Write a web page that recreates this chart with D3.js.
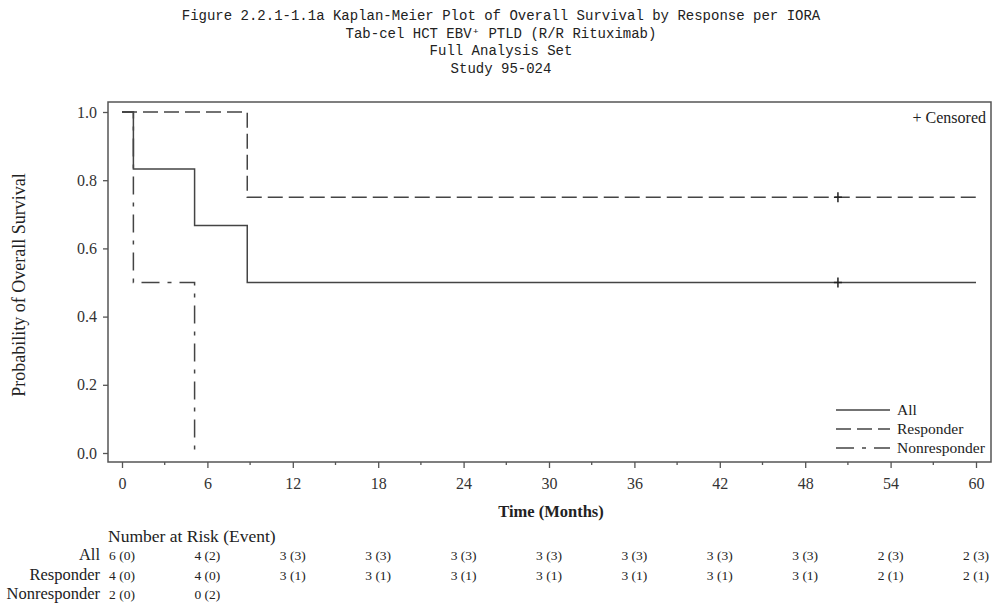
<!DOCTYPE html>
<html lang="en">
<head>
    <meta charset="UTF-8">
    <script src="https://d3js.org/d3.v7.min.js"></script>
    <style>
        body { margin: 0; background: #fff; }
        .title { font-family: "Liberation Mono", "DejaVu Sans Mono", monospace; font-size: 14px; fill: #222; }
        .serif { font-family: "Liberation Serif", "Times New Roman", serif; fill: #222; }
        .axis text { font-family: "Liberation Serif", serif; font-size: 16px; fill: #333; }
        .axis path, .axis line { stroke: #555; stroke-width: 1.3px; }
    </style>
</head>
<body>
<div id="chart"></div>
<script>
    // Kaplan-Meier step data (time in months, survival probability)
    const allTimes = [0, 0.8, 5.1, 8.8, 60];
    const allSurv  = [1.0, 0.833, 0.667, 0.5, 0.5];
    const respTimes = [0, 8.8, 60];
    const respSurv  = [1.0, 0.75, 0.75];
    const nonTimes = [0, 0.8, 5.1];
    const nonSurv  = [1.0, 0.5, 0.0];
    const censorTime = 50.3;
    const censorAll = 0.5, censorResp = 0.75;

    const xTicks = [0, 6, 12, 18, 24, 30, 36, 42, 48, 54, 60];
    const yTicks = [0, 0.2, 0.4, 0.6, 0.8, 1.0];

    const riskGroups = ["All", "Responder", "Nonresponder"];
    const riskAll  = ["6 (0)", "4 (2)", "3 (3)", "3 (3)", "3 (3)", "3 (3)", "3 (3)", "3 (3)", "3 (3)", "2 (3)", "2 (3)"];
    const riskResp = ["4 (0)", "4 (0)", "3 (1)", "3 (1)", "3 (1)", "3 (1)", "3 (1)", "3 (1)", "3 (1)", "2 (1)", "2 (1)"];
    const riskNon  = ["2 (0)", "0 (2)"];

    const titles = [
        "Figure 2.2.1-1.1a Kaplan-Meier Plot of Overall Survival by Response per IORA",
        "Tab-cel HCT EBV\u207A PTLD (R/R Rituximab)",
        "Full Analysis Set",
        "Study 95-024"
    ];

    const W = 993, H = 603;
    const frame = {left: 108, right: 991, top: 102, bottom: 462};

    const svg = d3.select("#chart").append("svg")
        .attr("width", W).attr("height", H);

    // titles
    svg.selectAll(".title")
        .data(titles)
        .enter()
        .append("text")
        .attr("class", "title")
        .attr("x", 501)
        .attr("y", (d, i) => 20 + i * 17.6)
        .attr("text-anchor", "middle")
        .text(d => d);

    const x = d3.scaleLinear().domain([0, 60]).range([122, 976]);
    const y = d3.scaleLinear().domain([0, 1]).range([453, 112]);

    // frame
    svg.append("rect")
        .attr("x", frame.left).attr("y", frame.top)
        .attr("width", frame.right - frame.left)
        .attr("height", frame.bottom - frame.top)
        .attr("fill", "none")
        .attr("stroke", "#555")
        .attr("stroke-width", 1.5);

    // y axis
    const yAxis = svg.append("g")
        .attr("class", "axis")
        .attr("transform", `translate(${frame.left},0)`)
        .call(d3.axisLeft(y).tickValues(yTicks).tickFormat(d3.format(".1f")).tickSize(5).tickPadding(6));
    yAxis.select(".domain").remove();

    // x axis (major + minor ticks)
    const xAxis = svg.append("g")
        .attr("class", "axis")
        .attr("transform", `translate(0,${frame.bottom})`)
        .call(d3.axisBottom(x).tickValues(xTicks).tickSize(6).tickPadding(10));
    xAxis.select(".domain").remove();

    const minorTicks = xTicks.slice(0, -1).map(d => d + 3);
    svg.append("g")
        .selectAll("line")
        .data(minorTicks)
        .enter()
        .append("line")
        .attr("x1", d => x(d)).attr("x2", d => x(d))
        .attr("y1", frame.bottom).attr("y2", frame.bottom + 3)
        .attr("stroke", "#555")
        .attr("stroke-width", 1.3);

    // axis labels
    svg.append("text")
        .attr("class", "serif")
        .attr("transform", "translate(25,285) rotate(-90)")
        .attr("text-anchor", "middle")
        .style("font-size", "18px")
        .text("Probability  of Overall Survival");

    svg.append("text")
        .attr("class", "serif")
        .attr("x", 551).attr("y", 517)
        .attr("text-anchor", "middle")
        .style("font-size", "16.5px")
        .style("font-weight", "bold")
        .text("Time (Months)");

    // curves
    const line = d3.line()
        .x(d => x(d[0]))
        .y(d => y(d[1]))
        .curve(d3.curveStepAfter);

    const curves = [
        {times: allTimes, surv: allSurv, dash: null},
        {times: respTimes, surv: respSurv, dash: "15,6"},
        {times: nonTimes, surv: nonSurv, dash: "18,8,4,8"}
    ];

    svg.selectAll(".curve")
        .data(curves)
        .enter()
        .append("path")
        .attr("class", "curve")
        .attr("d", d => line(d.times.map((t, i) => [t, d.surv[i]])))
        .attr("fill", "none")
        .attr("stroke", "#444")
        .attr("stroke-width", 1.5)
        .attr("stroke-dasharray", d => d.dash);

    // censor marks
    svg.selectAll(".censor")
        .data([censorAll, censorResp])
        .enter()
        .append("path")
        .attr("class", "censor")
        .attr("d", d => `M${x(censorTime) - 4},${y(d)}h8M${x(censorTime)},${y(d) - 5}v10`)
        .attr("stroke", "#222")
        .attr("stroke-width", 1.5);

    svg.append("text")
        .attr("class", "serif")
        .attr("x", 986).attr("y", 123)
        .attr("text-anchor", "end")
        .style("font-size", "16px")
        .text("+ Censored");

    // legend
    const legend = svg.append("g").attr("transform", "translate(836,410)");
    const legendItems = [
        {name: "All", dash: null},
        {name: "Responder", dash: "15,6"},
        {name: "Nonresponder", dash: "18,8,4,8"}
    ];
    legendItems.forEach((d, i) => {
        legend.append("line")
            .attr("x1", 0).attr("x2", 54)
            .attr("y1", i * 19).attr("y2", i * 19)
            .attr("stroke", "#444")
            .attr("stroke-width", 1.5)
            .attr("stroke-dasharray", d.dash);
        legend.append("text")
            .attr("class", "serif")
            .attr("x", 61).attr("y", i * 19 + 5)
            .style("font-size", "15.5px")
            .text(d.name);
    });

    // number at risk table
    svg.append("text")
        .attr("class", "serif")
        .attr("x", 108).attr("y", 542)
        .style("font-size", "17.5px")
        .text("Number at Risk (Event)");

    const riskRows = [riskAll, riskResp, riskNon];
    riskRows.forEach((row, r) => {
        const yy = 560 + r * 19.5;
        svg.append("text")
            .attr("class", "serif")
            .attr("x", 100).attr("y", yy)
            .attr("text-anchor", "end")
            .style("font-size", "16.5px")
            .text(riskGroups[r]);
        svg.selectAll(null)
            .data(row)
            .enter()
            .append("text")
            .attr("class", "serif")
            .attr("x", (d, i) => x(xTicks[i]))
            .attr("y", yy)
            .attr("text-anchor", "middle")
            .style("font-size", "13.5px")
            .text(d => d);
    });
</script>
</body>
</html>
